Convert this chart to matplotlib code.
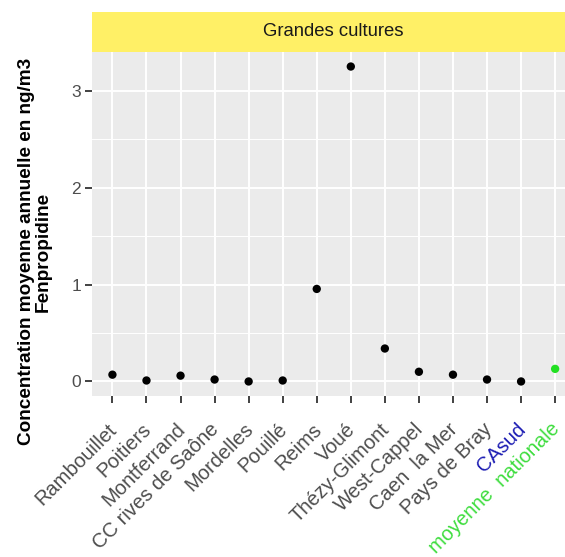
"""
Fenpropidine - concentration moyenne annuelle, grandes cultures
"""
import matplotlib.pyplot as plt
import matplotlib.transforms as mtransforms
import numpy as np

plt.rcParams['font.family'] = ['Liberation Sans', 'DejaVu Sans']

sites = ['Rambouillet', 'Poitiers', 'Montferrand', 'CC rives de Saône',
         'Mordelles', 'Pouillé', 'Reims', 'Voué', 'Thézy-Glimont',
         'West-Cappel', 'Caen  la Mer', 'Pays de Bray', 'CAsud',
         'moyenne  nationale']
concentration = [0.07, 0.01, 0.06, 0.02, 0.0, 0.01, 0.955, 3.25, 0.34,
                 0.10, 0.07, 0.02, 0.0, 0.13]
point_colors = ['black'] * 13 + ['#22E022']
label_colors = ['#4D4D4D'] * 12 + ['#1F1FB4', '#3EDD3E']

fig = plt.figure(figsize=(5.65, 5.57), dpi=100)
ax = fig.add_axes([92 / 565, 1 - 396 / 557, 1 - 92 / 565, 344 / 557])
ax.set_facecolor('#EBEBEB')

x = np.arange(len(sites))
ax.scatter(x, concentration, c=point_colors, s=36, zorder=3, edgecolors='none')

ax.set_xlim(-0.6, 13.29)
ax.set_ylim(-0.15, 3.4)
ax.set_yticks([0, 1, 2, 3])
ax.set_yticks([0.5, 1.5, 2.5], minor=True)
ax.set_xticks(x)
ax.set_xticklabels(sites, rotation=45, ha='right', va='top',
                   rotation_mode='anchor')

ax.grid(True, which='major', color='white', linewidth=1.4)
ax.grid(True, which='minor', axis='y', color='white', linewidth=0.7)
ax.set_axisbelow(True)
for s in ax.spines.values():
    s.set_visible(False)
ax.tick_params(axis='both', which='major', length=5, width=1.3,
               color='#333333', labelcolor='#4D4D4D', labelsize=12.5, pad=3)
ax.tick_params(axis='x', labelsize=14.5, pad=12)
ax.tick_params(which='minor', length=0)
shift = mtransforms.ScaledTranslation(-5 / 100, 0, fig.dpi_scale_trans)
for lab, col in zip(ax.get_xticklabels(), label_colors):
    lab.set_color(col)
    lab.set_transform(lab.get_transform() + shift)

ax.set_ylabel('Concentration moyenne annuelle en ng/m3\nFenpropidine',
              fontsize=13.7, fontweight='bold', color='black',
              linespacing=1.0)
ax.yaxis.set_label_coords(-0.085, 0.42)

# bandeau du facet
strip = fig.add_axes([92 / 565, 1 - 52 / 557, 1 - 92 / 565, 40 / 557])
strip.set_facecolor('#FFF066')
strip.set_xticks([])
strip.set_yticks([])
for s in strip.spines.values():
    s.set_visible(False)
strip.text(0.5095, 0.5, 'Grandes cultures', ha='center', va='center',
           fontsize=13.3, color='#1A1A1A', transform=strip.transAxes)

plt.savefig('out.png')
